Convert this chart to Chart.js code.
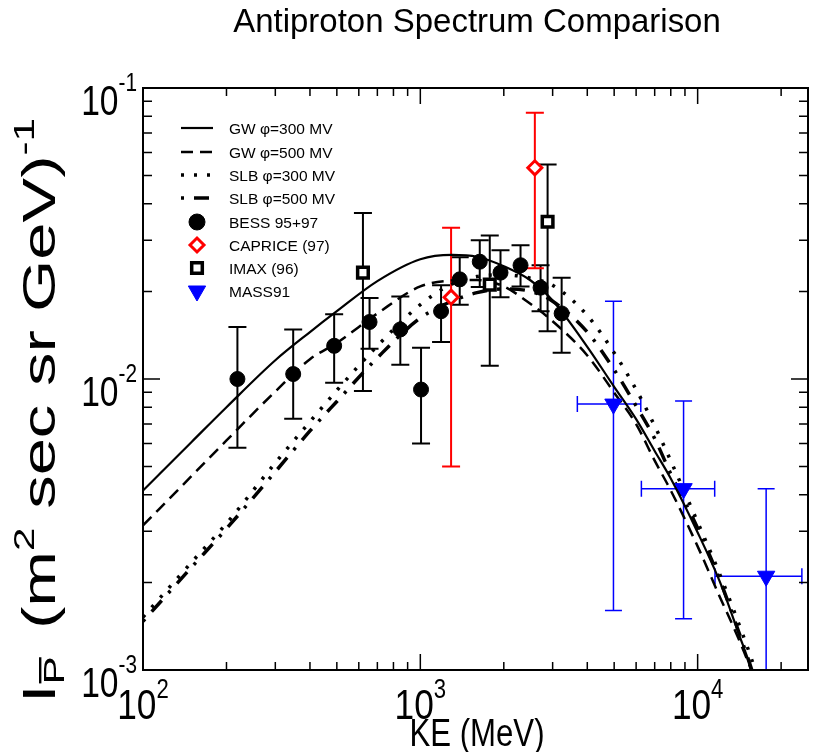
<!DOCTYPE html>
<html>
<head>
<meta charset="utf-8">
<script src="https://cdn.jsdelivr.net/npm/chart.js@4.4.1/dist/chart.umd.min.js"></script>
<style>
  html, body { margin: 0; padding: 0; background: #fff; }
</style>
</head>
<body>
<canvas id="chart" width="820" height="752"></canvas>
<script>
// model curves, sampled on a common KE grid (MeV)
const curveKE = [100, 150, 200, 300, 400, 500, 700, 1000, 1300, 1600, 2000, 2500, 3000, 4000, 5000, 6000, 7000, 8000, 10000, 12000, 14000, 16000, 18000];
const gw300 = [0.00414, 0.00609, 0.0080, 0.0116, 0.0145, 0.0171, 0.0217, 0.0258, 0.0267, 0.0263, 0.0244, 0.0218, 0.0186, 0.0129, 0.0094, 0.00728, 0.00566, 0.00455, 0.00297, 0.00202, 0.00135, 0.00094, 0.00064];
const gw500 = [0.00314, 0.00465, 0.00615, 0.00906, 0.0117, 0.0133, 0.0168, 0.0208, 0.0218, 0.0219, 0.0208, 0.0181, 0.0158, 0.01205, 0.00898, 0.0070, 0.00524, 0.00414, 0.00266, 0.00179, 0.00129, 0.00093, 0.00063];
const slb300 = [0.00152, 0.00235, 0.00319, 0.00515, 0.00713, 0.00914, 0.0130, 0.0180, 0.0212, 0.0225, 0.0228, 0.0222, 0.0210, 0.01654, 0.0123, 0.0092, 0.0069, 0.00523, 0.00322, 0.00214, 0.00146, 0.00102, 0.00068];
const slb500 = [0.00147, 0.00226, 0.00306, 0.0048, 0.00663, 0.00837, 0.01183, 0.0162, 0.0185, 0.0198, 0.0204, 0.0200, 0.0185, 0.0145, 0.01076, 0.00808, 0.00624, 0.00472, 0.00307, 0.00205, 0.00137, 0.00094, 0.00063];

// measurements
const bessKE = [219, 348, 489, 656, 847, 1006, 1188, 1387, 1638, 1946, 2298, 2714, 3233];
const bessFlux = [0.0100, 0.0104, 0.0130, 0.0157, 0.0148, 0.0092, 0.0171, 0.0220, 0.0253, 0.0232, 0.0246, 0.0206, 0.0168];
const bessHi = [0.0151, 0.0148, 0.0167, 0.0190, 0.0192, 0.0128, 0.0210, 0.0262, 0.0300, 0.0277, 0.0288, 0.0246, 0.0223];
const bessLo = [0.0058, 0.0073, 0.0097, 0.0127, 0.0112, 0.0060, 0.0134, 0.0180, 0.0207, 0.0191, 0.0208, 0.0171, 0.0123];

const capKE = [1291, 2588];
const capFlux = [0.0191, 0.0532];
const capHi = [0.0331, 0.0822];
const capLo = [0.0050, 0.0240];

const imaxKE = [621, 1780, 2877];
const imaxFlux = [0.0232, 0.0211, 0.0347];
const imaxHi = [0.0372, 0.0311, 0.0546];
const imaxLo = [0.0091, 0.0111, 0.0146];

const massKE = [4971, 8897, 17660];
const massKELo = [3683, 6268, 11550];
const massKEHi = [6237, 11520, 23760];
const massFlux = [0.0082, 0.0042, 0.0021];
const massHi = [0.0185, 0.0084, 0.0042];
const massLo = [0.0016, 0.0015, 0.0007];

// axis ticks
const xMajor = [100, 1000, 10000];
const xMinor = [200, 300, 400, 500, 600, 700, 800, 900, 2000, 3000, 4000, 5000, 6000, 7000, 8000, 9000, 20000];
const xLabels = ['2', '3', '4'];
const yMajor = [0.1, 0.01, 0.001];
const yMinor = [0.002, 0.003, 0.004, 0.005, 0.006, 0.007, 0.008, 0.009, 0.02, 0.03, 0.04, 0.05, 0.06, 0.07, 0.08, 0.09];
const yLabels = ['-1', '-2', '-3'];

const RED = '#ff0000';
const BLUE = '#0000ff';
const FONT = '"Liberation Sans", Arial, sans-serif';

const pts = (xs, ys) => xs.map((x, i) => ({ x: x, y: ys[i] }));

const DASH = [12, 7];
const DOT = [3, 10];
const DASHDOT = [3, 10, 15, 10];

function curve(ys, dash, width) {
  return {
    data: pts(curveKE, ys),
    showLine: true,
    borderColor: '#000',
    borderWidth: width,
    borderDash: dash,
    pointRadius: 0,
    cubicInterpolationMode: 'monotone',
    fill: false,
  };
}

function txt(ctx, s, x, y, size, align, sx) {
  ctx.save();
  ctx.font = size + 'px ' + FONT;
  ctx.translate(x, y);
  ctx.scale(sx, 1);
  ctx.textAlign = align;
  ctx.textBaseline = 'alphabetic';
  ctx.fillText(s, 0, 0);
  ctx.restore();
}

function textW(ctx, s, size, sx) {
  ctx.font = size + 'px ' + FONT;
  return ctx.measureText(s).width * sx;
}

const errorBars = {
  id: 'errorBars',
  beforeDatasetsDraw(chart) {
    const { ctx, chartArea: a } = chart;
    const xs = chart.scales.x, ys = chart.scales.y;
    ctx.save();
    ctx.beginPath();
    ctx.rect(a.left, a.top, a.right - a.left, a.bottom - a.top);
    ctx.clip();
    const vbars = (kx, lo, hi, color, w, cap) => {
      ctx.strokeStyle = color;
      ctx.lineWidth = w;
      kx.forEach((k, i) => {
        const px = xs.getPixelForValue(k);
        const p1 = ys.getPixelForValue(lo[i]);
        const p2 = ys.getPixelForValue(hi[i]);
        ctx.beginPath();
        ctx.moveTo(px, p1); ctx.lineTo(px, p2);
        ctx.moveTo(px - cap, p1); ctx.lineTo(px + cap, p1);
        ctx.moveTo(px - cap, p2); ctx.lineTo(px + cap, p2);
        ctx.stroke();
      });
    };
    vbars(bessKE, bessLo, bessHi, '#000', 2, 9);
    vbars(imaxKE, imaxLo, imaxHi, '#000', 2, 9);
    vbars(capKE, capLo, capHi, RED, 2, 9);
    vbars(massKE, massLo, massHi, BLUE, 1.5, 8.5);
    ctx.strokeStyle = BLUE;
    ctx.lineWidth = 1.5;
    massKE.forEach((k, i) => {
      const py = ys.getPixelForValue(massFlux[i]);
      const x1 = xs.getPixelForValue(massKELo[i]);
      const x2 = xs.getPixelForValue(massKEHi[i]);
      ctx.beginPath();
      ctx.moveTo(x1, py); ctx.lineTo(x2, py);
      ctx.moveTo(x1, py - 8); ctx.lineTo(x1, py + 8);
      ctx.moveTo(x2, py - 8); ctx.lineTo(x2, py + 8);
      ctx.stroke();
    });
    ctx.restore();
  },
};

function power(ctx, exp, x, y, align, base, sup, sx, supDy) {
  const w10 = textW(ctx, '10', base, sx);
  const wE = textW(ctx, exp, sup, sx);
  let left = align === 'center' ? x - (w10 + wE) / 2 : x - (w10 + wE);
  txt(ctx, '10', left, y, base, 'left', sx);
  txt(ctx, exp, left + w10, y - supDy, sup, 'left', sx);
}

const frame = {
  id: 'frame',
  afterDraw(chart) {
    const { ctx, chartArea: a } = chart;
    const xs = chart.scales.x, ys = chart.scales.y;
    ctx.save();
    ctx.fillStyle = '#000';
    ctx.strokeStyle = '#000';

    // ticks, all four sides, pointing inward
    ctx.lineWidth = 1.5;
    ctx.beginPath();
    const xt = (v, len) => {
      const p = xs.getPixelForValue(v);
      ctx.moveTo(p, a.bottom); ctx.lineTo(p, a.bottom - len);
      ctx.moveTo(p, a.top); ctx.lineTo(p, a.top + len);
    };
    const yt = (v, len) => {
      const p = ys.getPixelForValue(v);
      ctx.moveTo(a.left, p); ctx.lineTo(a.left + len, p);
      ctx.moveTo(a.right, p); ctx.lineTo(a.right - len, p);
    };
    xMajor.forEach(v => xt(v, 16));
    xMinor.forEach(v => xt(v, 8));
    yMajor.forEach(v => yt(v, 17));
    yMinor.forEach(v => yt(v, 9));
    ctx.stroke();

    // frame
    ctx.lineWidth = 2;
    ctx.strokeRect(a.left, a.top, a.right - a.left, a.bottom - a.top);

    // tick labels
    xMajor.forEach((v, i) => power(ctx, xLabels[i], xs.getPixelForValue(v), a.bottom + 49, 'center', 43, 27, 0.82, 21));
    yMajor.forEach((v, i) => power(ctx, yLabels[i], a.left - 6, ys.getPixelForValue(v) + 27, 'right', 42, 26, 0.8, 24));

    // title and x title
    txt(ctx, 'Antiproton Spectrum Comparison', 477, 32, 34, 'center', 0.97);
    txt(ctx, 'KE (MeV)', 477, 746, 38, 'center', 0.82);

    // y title, rotated, reading upward, stretched to its length in the original
    ctx.save();
    ctx.translate(55, 703);
    ctx.rotate(-Math.PI / 2);
    const parts = [
      ['I', 46, 0],
      ['P', 29, 9],
      [' (m', 46, 0],
      ['2', 29, -21],
      [' sec sr GeV)', 46, 0],
      ['-1', 29, -21],
    ];
    let natural = 6;
    parts.forEach(p => { natural += textW(ctx, p[0], p[1], 1); });
    const ysx = 585 / natural;
    let cx = 0;
    parts.forEach((p, i) => {
      txt(ctx, p[0], cx, p[2], p[1], 'left', ysx);
      const w = textW(ctx, p[0], p[1], ysx);
      if (p[0] === 'P') {
        ctx.fillRect(cx + 1, p[2] - 25, w - 2, 2.4);
        cx += 6 * ysx;
      }
      cx += w;
    });
    ctx.restore();

    // legend
    const lx1 = 181, lx2 = 213, tx = 229, mx = 197;
    const rows = [128, 152, 175, 198, 222, 245, 268, 291];
    const lines = [
      ['GW \u03c6=300 MV', [], 2.2],
      ['GW \u03c6=500 MV', DASH, 2.5],
      ['SLB \u03c6=300 MV', DOT, 3.5],
      ['SLB \u03c6=500 MV', DASHDOT, 3.5],
    ];
    lines.forEach((l, i) => {
      ctx.save();
      ctx.lineWidth = l[2];
      ctx.setLineDash(l[1]);
      ctx.beginPath();
      ctx.moveTo(lx1, rows[i]); ctx.lineTo(lx2, rows[i]);
      ctx.stroke();
      ctx.restore();
      txt(ctx, l[0], tx, rows[i] + 6, 15.5, 'left', 1);
    });
    const marks = [
      ['BESS 95+97', { pointStyle: 'circle', radius: 8, borderWidth: 1 }, '#000', '#000'],
      ['CAPRICE (97)', { pointStyle: 'rectRot', radius: 7, borderWidth: 3 }, RED, '#fff'],
      ['IMAX (96)', { pointStyle: 'rect', radius: 7.5, borderWidth: 3.5 }, '#000', '#fff'],
      ['MASS91', { pointStyle: 'triangle', radius: 10, rotation: 180, borderWidth: 1 }, BLUE, BLUE],
    ];
    marks.forEach((m, i) => {
      const y = rows[4 + i];
      ctx.save();
      ctx.strokeStyle = m[2];
      ctx.fillStyle = m[3];
      ctx.lineWidth = m[1].borderWidth;
      Chart.helpers.drawPoint(ctx, m[1], mx, y);
      ctx.restore();
      txt(ctx, m[0], tx, y + 6, 15.5, 'left', 1);
    });
    ctx.restore();
  },
};

const ctx = document.getElementById('chart').getContext('2d');
new Chart(ctx, {
  type: 'scatter',
  data: {
    datasets: [
      {
        data: pts(massKE, massFlux),
        pointStyle: 'triangle', rotation: 180, pointRadius: 10,
        backgroundColor: BLUE, borderColor: BLUE, borderWidth: 1,
      },
      {
        data: pts(imaxKE, imaxFlux),
        pointStyle: 'rect', pointRadius: 7.5,
        backgroundColor: '#fff', borderColor: '#000', borderWidth: 3.5,
      },
      {
        data: pts(capKE, capFlux),
        pointStyle: 'rectRot', pointRadius: 7,
        backgroundColor: '#fff', borderColor: RED, borderWidth: 3,
      },
      {
        data: pts(bessKE, bessFlux),
        pointStyle: 'circle', pointRadius: 7.5,
        backgroundColor: '#000', borderColor: '#000', borderWidth: 1,
      },
      curve(gw300, [], 2.2),
      curve(gw500, DASH, 2.5),
      curve(slb300, DOT, 3.5),
      curve(slb500, DASHDOT, 3.5),
    ],
  },
  options: {
    responsive: false,
    animation: false,
    devicePixelRatio: 1,
    layout: { padding: { left: 143, right: 12, top: 88, bottom: 82 } },
    scales: {
      x: { type: 'logarithmic', min: 100, max: 25000, display: false },
      y: { type: 'logarithmic', min: 0.001, max: 0.1, display: false },
    },
    plugins: {
      legend: { display: false },
      tooltip: { enabled: false },
    },
  },
  plugins: [errorBars, frame],
});
</script>
</body>
</html>
